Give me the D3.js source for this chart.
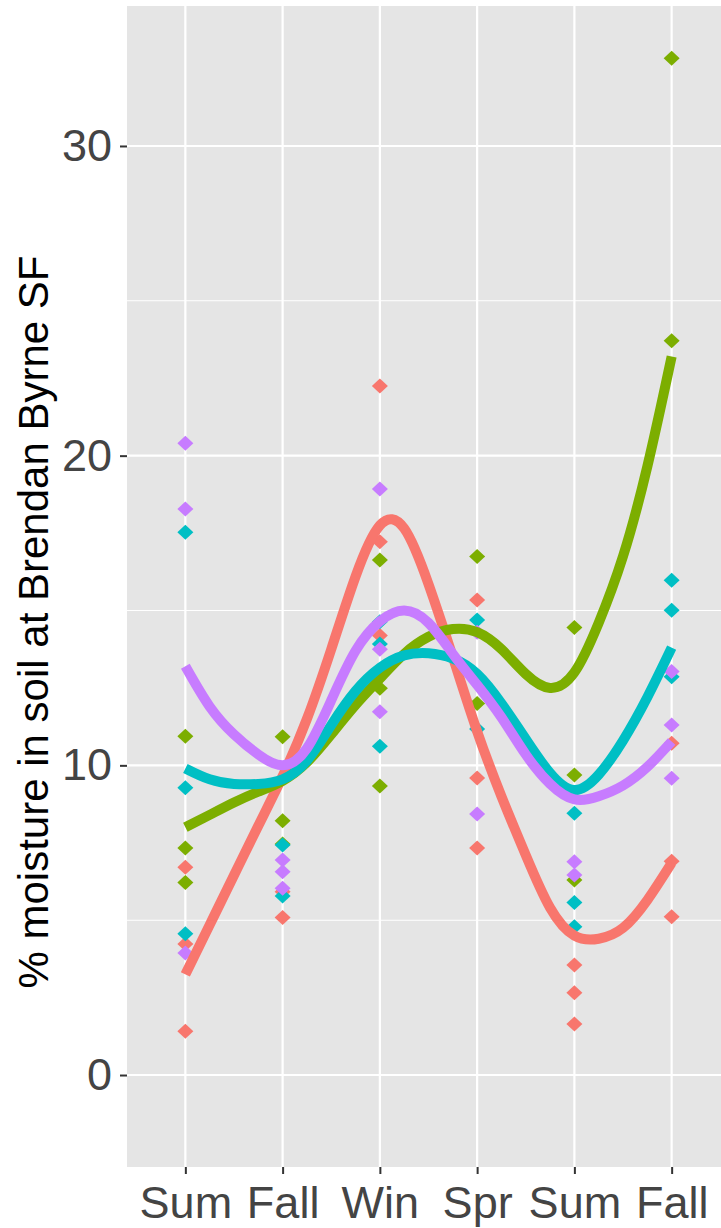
<!DOCTYPE html>
<html>
<head>
<meta charset="utf-8">
<script src="https://cdn.jsdelivr.net/npm/d3@7"></script>
<style>
  html, body { margin: 0; padding: 0; background: #ffffff; }
  svg { display: block; }
</style>
</head>
<body>
<svg id="chart" width="721" height="1228"></svg>
<script>
// Season labels along the x axis (two years of sampling)
const seasons = ["Sum", "Fall", "Win", "Spr", "Sum", "Fall"];
const yTicks = [0, 10, 20, 30];
const yMinor = [5, 15, 25];

// Group colours (ggplot default hue palette)
const groupColors = ["#F8766D", "#7CAE00", "#00BFC4", "#C77CFF"];

// Measured soil moisture, [season index, % moisture]
const pointsA = [[1, 6.71], [1, 4.23], [1, 1.41], [2, 5.92], [2, 5.09], [3, 22.25], [3, 17.22], [3, 14.19],
                 [4, 15.34], [4, 9.59], [4, 7.33], [5, 3.55], [5, 2.66], [5, 1.65], [6, 10.71], [6, 6.9], [6, 5.11]];
const pointsB = [[1, 10.94], [1, 7.33], [1, 6.22], [2, 10.92], [2, 8.21], [2, 7.46], [3, 16.63], [3, 12.49], [3, 9.33],
                 [4, 16.74], [4, 12.0], [5, 14.45], [5, 9.69], [5, 6.3], [6, 32.83], [6, 23.71]];
const pointsC = [[1, 17.53], [1, 9.28], [1, 4.56], [2, 7.43], [2, 5.78], [3, 14.64], [3, 13.92], [3, 10.62],
                 [4, 14.69], [4, 11.17], [5, 8.45], [5, 5.57], [5, 4.79], [6, 15.98], [6, 15.01], [6, 12.86]];
const pointsD = [[1, 20.4], [1, 18.28], [1, 3.94], [2, 6.94], [2, 6.56], [2, 6.03], [3, 18.92], [3, 13.75], [3, 11.73],
                 [4, 14.3], [4, 8.43], [5, 6.89], [5, 6.46], [6, 13.03], [6, 11.3], [6, 9.58]];

// Smoothed trend per group, sampled every quarter season from 1 to 6
const smoothStep = 0.25;
const smoothA = [3.25, 4.85, 6.45, 8.05, 9.65, 11.5, 13.75, 16.1, 17.75, 17.65, 15.85, 13.5, 11.1, 9.0, 7.1, 5.4, 4.5, 4.4, 4.75, 5.65, 6.85];
const smoothB = [8.0, 8.4, 8.8, 9.15, 9.5, 10.1, 11.0, 11.95, 12.8, 13.6, 14.15, 14.4, 14.3, 13.75, 12.95, 12.5, 13.0, 14.6, 16.75, 19.65, 23.2];
const smoothC = [9.9, 9.55, 9.4, 9.4, 9.55, 10.15, 11.3, 12.4, 13.15, 13.55, 13.62, 13.45, 12.95, 12.0, 10.85, 9.75, 9.2, 9.7, 10.8, 12.2, 13.8];
const smoothD = [13.2, 11.9, 11.0, 10.35, 10.0, 10.55, 12.1, 13.7, 14.65, 15.0, 14.6, 13.6, 12.6, 11.55, 10.35, 9.4, 8.9, 9.0, 9.35, 9.95, 10.77];

const pointSets = [pointsA, pointsB, pointsC, pointsD];
const smoothSets = [smoothA, smoothB, smoothC, smoothD];

const svg = d3.select("#chart");
const panel = { left: 127, top: 6, right: 730, bottom: 1167 };
const font = "'Liberation Sans', Arial, sans-serif";

const x = d3.scaleLinear().domain([0.4, 6.6]).range([panel.left, panel.right]);
const y = d3.scaleLinear().domain([-2.97, 34.52]).range([panel.bottom, panel.top]);

// Panel background
svg.append("rect")
  .attr("x", panel.left).attr("y", panel.top)
  .attr("width", panel.right - panel.left).attr("height", panel.bottom - panel.top)
  .attr("fill", "#E5E5E5");

const grid = svg.append("g");
grid.selectAll(".minor").data(yMinor).enter().append("line")
  .attr("x1", panel.left).attr("x2", panel.right)
  .attr("y1", d => y(d)).attr("y2", d => y(d))
  .attr("stroke", "#ffffff").attr("stroke-width", 1.1);
grid.selectAll(".majorY").data(yTicks).enter().append("line")
  .attr("x1", panel.left).attr("x2", panel.right)
  .attr("y1", d => y(d)).attr("y2", d => y(d))
  .attr("stroke", "#ffffff").attr("stroke-width", 2.2);
grid.selectAll(".majorX").data(d3.range(1, seasons.length + 1)).enter().append("line")
  .attr("y1", panel.top).attr("y2", panel.bottom)
  .attr("x1", d => x(d)).attr("x2", d => x(d))
  .attr("stroke", "#ffffff").attr("stroke-width", 2.2);

// Points (diamonds)
const diamond = "M0,-7.5L8,0L0,7.5L-8,0Z";
pointSets.forEach((pts, gi) => {
  svg.append("g").selectAll("path").data(pts).enter().append("path")
    .attr("d", diamond)
    .attr("transform", d => `translate(${x(d[0])},${y(d[1])})`)
    .attr("fill", groupColors[gi]);
});

// Smooth trend lines
const line = d3.line()
  .x((d, i) => x(1 + i * smoothStep))
  .y(d => y(d))
  .curve(d3.curveNatural);
smoothSets.forEach((vals, gi) => {
  svg.append("path")
    .attr("d", line(vals))
    .attr("fill", "none")
    .attr("stroke", groupColors[gi])
    .attr("stroke-width", 10)
    .attr("stroke-linejoin", "round");
});

// Axes
const yAxis = d3.axisLeft(y).tickValues(yTicks).tickSize(7).tickPadding(8);
const gy = svg.append("g").attr("transform", `translate(${panel.left},0)`).call(yAxis);
gy.select(".domain").remove();
gy.selectAll(".tick line").attr("stroke", "#333333").attr("stroke-width", 2);
gy.selectAll(".tick text")
  .attr("fill", "#444444")
  .style("font-family", font)
  .style("font-size", "45px");

const xAxis = d3.axisBottom(x).tickValues(d3.range(1, seasons.length + 1))
  .tickFormat(d => seasons[d - 1]).tickSize(7).tickPadding(12);
const gx = svg.append("g").attr("transform", `translate(0,${panel.bottom})`).call(xAxis);
gx.select(".domain").remove();
gx.selectAll(".tick line").attr("stroke", "#333333").attr("stroke-width", 2);
gx.selectAll(".tick text")
  .attr("fill", "#444444")
  .style("font-family", font)
  .style("font-size", "45px");

// Y axis title
svg.append("text")
  .attr("transform", `translate(48,622) rotate(-90)`)
  .attr("text-anchor", "middle")
  .attr("fill", "#000000")
  .style("font-family", font)
  .style("font-size", "42px")
  .text("% moisture in soil at Brendan Byrne SF");
</script>
</body>
</html>
